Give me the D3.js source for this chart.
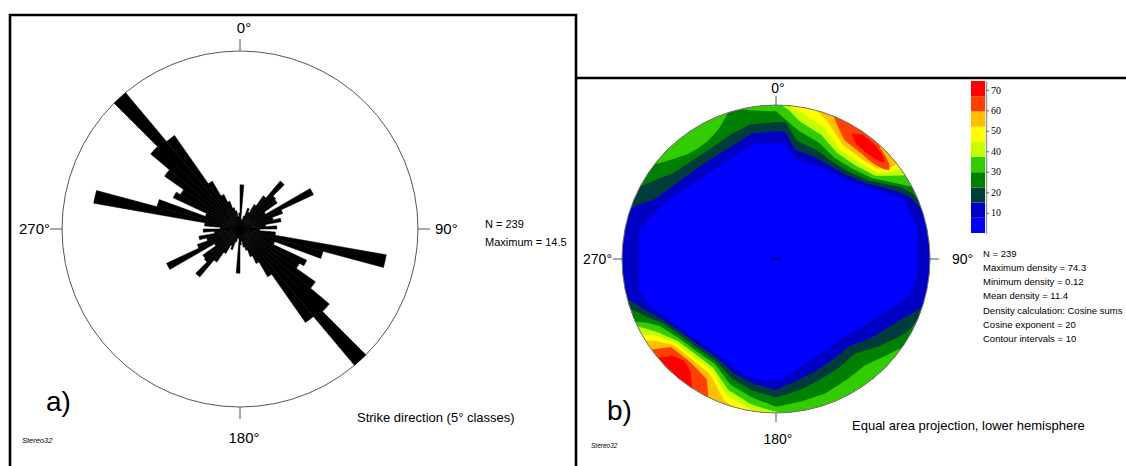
<!DOCTYPE html>
<html lang="en">
<head>
<meta charset="UTF-8">
<title>Strike rose and pole density</title>
<script src="https://d3js.org/d3.v7.min.js"></script>
<style>
  body { margin: 0; background: #fff; }
  svg { display: block; font-family: "Liberation Sans", Arial, sans-serif; }
</style>
</head>
<body>
<div id="chart"></div>
<script>
// ---- a) rose: strike classes of 5°, 0-180 (the other half is the mirror), percent
const strikeStart = d3.range(0, 180, 5);
const strikePercent = [3.6, 0.8, 0.7, 1.1, 1.8, 1.5, 2.3, 3.3, 5.1, 3.8,
                       3.7, 2.4, 6.6, 3.7, 2.8, 3.4, 2.1, 3.0, 1.6, 2.9,
                       12.1, 7.0, 3.0, 6.0, 5.6, 7.5, 9.5, 14.5, 9.3, 4.5,
                       3.1, 2.4, 1.8, 1.5, 1.0, 1.3];
const roseMax = 14.5;
const compassDeg = [0, 90, 180, 270];

// ---- b) density contours: [azimuth°, inner radius, outer radius] as fraction of the net
const minDensity = 0.12, maxDensity = 74.3, contourCount = 10;
const levelColors = ["#0000ff", "#0000c4", "#003c3c", "#008000", "#33cc00",
                     "#c4ff00", "#ffff00", "#ffc000", "#ff4000", "#ff0000"];
const ring1 = [[0,.75],[4,.75],[11.5,.653],[20,.655],[30,.665],[40,.68],[50,.74],[60,.84],[65,.913],[78,.94],
  [96,.925],[105,.90],[110,.845],[120,.758],[130,.706],[140,.663],[150,.676],[160,.693],[170,.734],[175,.763],
  [178,.79],[187,.79],[194,.78],[200,.755],[210,.73],[220,.728],[230,.748],[240,.794],[250,.873],[257,.91],
  [270,.89],[282,.91],[296,.814],[300,.786],[310,.735],[320,.71],[330,.708],[340,.727],[349,.765],[360,.75]];
const lvl2Top = [[289,1],[292,.95],[296,.88],[300,.85],[310,.80],[320,.78],[330,.775],[340,.79],[349,.83],[360,.83],
  [364,.83],[370,.72],[380,.706],[390,.70],[400,.71],[410,.765],[420,.89],[425,.955],[431,1]];
const lvl2Bottom = [[108,1],[112,.95],[115,.91],[120,.864],[130,.80],[140,.74],[150,.75],[160,.77],[170,.80],
  [180,.85],[190,.824],[200,.793],[210,.75],[220,.75],[230,.77],[240,.82],[248,.90],[252,.95],[255,1]];
const lvl3Top = [[298,1],[302,.95],[310,.87],[320,.84],[330,.835],[340,.86],[349,.89],[360,.89],[364,.89],
  [370,.78],[380,.757],[390,.73],[400,.738],[410,.79],[420,.935],[424,.98],[427,1]];
const lvl3Bottom = [[113,1],[118,.98],[120,.968],[130,.88],[140,.80],[150,.815],[160,.835],[170,.865],[180,.90],
  [190,.868],[200,.83],[210,.77],[220,.77],[230,.79],[240,.84],[246,.92],[249,.96],[251,1]];
const lvl4NW = [[308,1],[312,.95],[320,.89],[325,.88],[330,.885],[336,.92],[342,1]];
const lvl4Top = [[347,1],[350,.98],[355,.965],[360,.96],[370,.845],[380,.807],[390,.76],[400,.767],[410,.815],
  [415,.88],[420,.96],[422,1]];
const lvl4Bottom = [[125,1],[130,.96],[140,.90],[150,.91],[160,.93],[170,.94],[180,.96],[190,.912],[200,.868],
  [210,.79],[220,.79],[230,.81],[240,.87],[244,.94],[246,1]];
const lvl5Top = [[2,1],[5,.97],[10,.905],[20,.858],[30,.795],[40,.796],[50,.84],[54,.92],[57,1]];
const lvl5Bottom = [[178,1],[183,.98],[190,.956],[200,.906],[210,.815],[220,.81],[230,.83],[238,.9],[242,.96],[244,1]];
const lvl6Top = [[5,1],[10,.965],[20,.909],[30,.825],[40,.825],[50,.865],[53,.95],[54,1]];
const lvl6Bottom = [[186,1],[190,.99],[200,.943],[210,.835],[220,.83],[230,.85],[237,.92],[241,1]];
const lvl7Top = [[15,1],[20,.96],[30,.86],[40,.853],[48,.88],[51,.93],[52,1]];
const lvl7Bottom = [[196,1],[200,.98],[210,.86],[220,.85],[230,.87],[236,.95],[238,1]];
const lvl8Top = [[22,1],[25,.95],[30,.89],[40,.882],[43,.88,.99],[47,.89,.975],[50,.91,.96],[52,.935,.935]];
const lvl8Bottom = [[206,1],[210,.90],[220,.87],[230,.89],[234,1]];
const lvl9Top = [[31,.95,.95],[35,.91,.985],[40,.905,.983],[45,.915,.97],[48,.94,.95]];
const lvl9Bottom = [[213,1],[217,.92],[222,.89],[227,.92],[230,1]];

const statLines = ["N = 239", "Maximum density = 74.3", "Minimum density = 0.12", "Mean density = 11.4",
                   "Density calculation: Cosine sums", "Cosine exponent = 20", "Contour intervals = 10"];
const barTicks = [10, 20, 30, 40, 50, 60, 70];

const W = 1126, H = 466;
const svg = d3.select("#chart").append("svg").attr("width", W).attr("height", H);

// frames
svg.append("path")
    .attr("d", "M10,470 V15 H576 V470 M576,78 H1130")
    .attr("fill", "none").attr("stroke", "#000").attr("stroke-width", 2.6);

// compass ticks and labels for a net
function compass(cx, cy, R, tickLen, fontSize, offs) {
    const g = svg.append("g").attr("transform", `translate(${cx},${cy})`);
    g.selectAll("line.tick").data(compassDeg).enter().append("line")
        .attr("x1", d => R * Math.sin(d * Math.PI / 180))
        .attr("y1", d => -R * Math.cos(d * Math.PI / 180))
        .attr("x2", d => (R + tickLen) * Math.sin(d * Math.PI / 180))
        .attr("y2", d => -(R + tickLen) * Math.cos(d * Math.PI / 180))
        .attr("stroke", "#555").attr("stroke-width", 1);
    g.selectAll("text").data(compassDeg).enter().append("text")
        .attr("x", (d, i) => offs[i][0])
        .attr("y", (d, i) => offs[i][1])
        .attr("text-anchor", (d, i) => ["middle", "start", "middle", "end"][i])
        .attr("font-size", fontSize)
        .text(d => d + "°");
    return g;
}

// ---------- a) rose diagram
const rose = { cx: 240, cy: 229, R: 178 };
const rRose = d3.scaleLinear().domain([0, roseMax]).range([0, rose.R]);
const gRose = svg.append("g").attr("transform", `translate(${rose.cx},${rose.cy})`);
gRose.append("circle").attr("r", rose.R).attr("fill", "none").attr("stroke", "#555").attr("stroke-width", 1);
const arc = d3.arc().innerRadius(0);
const petals = [];
strikeStart.forEach((s, i) => {
    petals.push({ a: s, v: strikePercent[i] });
    petals.push({ a: s + 180, v: strikePercent[i] });
});
gRose.selectAll("path.petal").data(petals).enter().append("path")
    .attr("class", "petal")
    .attr("d", d => arc({ outerRadius: rRose(d.v), startAngle: d.a * Math.PI / 180, endAngle: (d.a + 5) * Math.PI / 180 }))
    .attr("fill", "#000").attr("stroke", "#000").attr("stroke-width", 0.5).attr("stroke-linejoin", "miter");
compass(rose.cx, rose.cy, rose.R, 12, 15,
    [[4, -rose.R - 18], [rose.R + 17, 5], [4, rose.R + 36], [-rose.R - 12, 5]]);

svg.append("text").attr("x", 485).attr("y", 228).attr("font-size", 11).text("N = " + 239);
svg.append("text").attr("x", 485).attr("y", 246).attr("font-size", 11).text("Maximum = " + roseMax);
svg.append("text").attr("x", 357).attr("y", 422).attr("font-size", 13).text("Strike direction (5° classes)");
svg.append("text").attr("x", 46).attr("y", 411).attr("font-size", 28).text("a)");
svg.append("text").attr("x", 22).attr("y", 443).attr("font-size", 7.5).attr("font-style", "italic").text("Stereo32");

// ---------- b) density net
const net = { cx: 776, cy: 259, R: 154 };
const rNet = d3.scaleLinear().domain([0, 1]).range([0, net.R]);
const thresholds = d3.range(contourCount + 1).map(i => minDensity + i * (maxDensity - minDensity) / contourCount);
const color = d3.scaleThreshold().domain(thresholds.slice(1, -1)).range(levelColors);

svg.append("clipPath").attr("id", "netClip").append("circle").attr("r", net.R);
const gNet = svg.append("g").attr("transform", `translate(${net.cx},${net.cy})`);
const gFill = gNet.append("g").attr("clip-path", "url(#netClip)");
gFill.append("circle").attr("r", net.R).attr("fill", color(minDensity));

const lobes = [[1, ring1], [2, lvl2Top], [2, lvl2Bottom], [3, lvl3Top], [3, lvl3Bottom],
    [4, lvl4NW], [4, lvl4Top], [4, lvl4Bottom], [5, lvl5Top], [5, lvl5Bottom], [6, lvl6Top], [6, lvl6Bottom],
    [7, lvl7Top], [7, lvl7Bottom], [8, lvl8Top], [8, lvl8Bottom], [9, lvl9Top], [9, lvl9Bottom]];
const band = d3.areaRadial()
    .angle(d => d[0] * Math.PI / 180)
    .innerRadius(d => rNet(d[1]))
    .outerRadius(d => rNet(d.length > 2 ? d[2] : 1.06))
    .curve(d3.curveLinear);
gFill.selectAll("path.band").data(lobes).enter().append("path")
    .attr("class", "band")
    .attr("d", d => band(d[1]))
    .attr("fill", d => levelColors[d[0]]);

gNet.append("circle").attr("r", net.R).attr("fill", "none").attr("stroke", "#777").attr("stroke-width", 1);
gNet.append("line").attr("x1", -4).attr("x2", 4).attr("stroke", "#000").attr("stroke-width", 1.2);
compass(net.cx, net.cy, net.R, 9, 14,
    [[2, -net.R - 12], [net.R + 22, 5], [2, net.R + 31], [-net.R - 10, 5]]);

// colour bar
const yBar = d3.scaleLinear().domain([minDensity, maxDensity]).range([233, 81]);
const gBar = svg.append("g");
gBar.selectAll("rect").data(levelColors).enter().append("rect")
    .attr("x", 971).attr("width", 14)
    .attr("y", (d, i) => yBar(thresholds[i + 1]))
    .attr("height", (d, i) => yBar(thresholds[i]) - yBar(thresholds[i + 1]))
    .attr("fill", d => d);
const axisBar = svg.append("g").attr("transform", "translate(986,0)")
    .call(d3.axisRight(yBar).tickValues(barTicks).tickSize(3).tickSizeOuter(0).tickPadding(2));
axisBar.select(".domain").attr("stroke", "#999").attr("stroke-width", 1.5);
axisBar.selectAll(".tick line").attr("stroke", "#666");
axisBar.selectAll(".tick text").attr("font-family", "'Liberation Serif', serif").attr("font-size", 10).attr("fill", "#000");

svg.append("g").selectAll("text").data(statLines).enter().append("text")
    .attr("x", 983).attr("y", (d, i) => 256.5 + i * 14.3)
    .attr("font-size", 9.5).text(d => d);
svg.append("text").attr("x", 852).attr("y", 430).attr("font-size", 13).text("Equal area projection, lower hemisphere");
svg.append("text").attr("x", 607).attr("y", 420).attr("font-size", 28).text("b)");
svg.append("text").attr("x", 591).attr("y", 448).attr("font-size", 6.5).attr("font-style", "italic").text("Stereo32");
</script>
</body>
</html>
